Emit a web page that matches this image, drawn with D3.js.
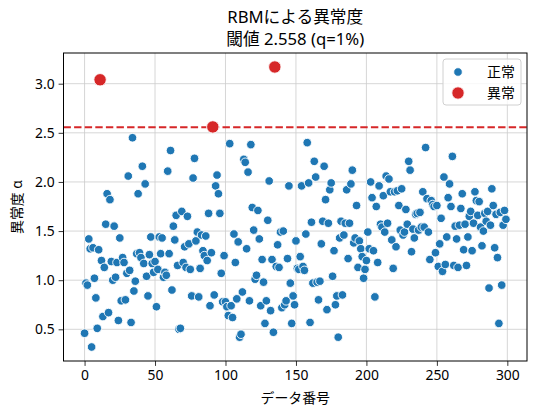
<!DOCTYPE html>
<html>
<head>
<meta charset="utf-8">
<script src="https://cdn.jsdelivr.net/npm/d3@7"></script>
<style>
  body { margin: 0; background: #fff; }
  text { font-family: "Noto Sans", "Noto Sans CJK JP", sans-serif; }
</style>
</head>
<body>
<svg id="chart" width="538" height="414"></svg>
<script>
// anomaly score per data index
const scores = [
  0.46,0.97,0.95,1.42,1.32,0.32,1.33,1.02,0.82,0.51, 1.31,3.04,1.20,0.63,1.13,1.57,1.88,0.67,1.82,1.19,
  1.00,1.55,1.03,1.18,0.59,1.43,0.79,1.23,1.18,0.80, 1.07,2.06,1.10,0.57,2.45,0.89,0.99,1.27,1.88,1.28,
  1.23,2.16,1.17,1.98,1.04,0.84,1.26,1.44,1.17,1.08, 1.19,0.73,1.11,1.44,1.27,1.43,1.03,1.08,1.05,2.11,
  1.27,2.32,0.90,1.55,1.41,1.66,1.15,0.50,0.51,1.70, 1.18,1.34,1.13,1.65,1.37,1.11,0.84,2.04,2.24,1.40,
  1.49,0.83,1.12,1.46,1.30,1.25,1.45,1.20,1.68,0.74, 1.28,2.56,0.85,1.96,2.07,1.88,1.68,1.07,0.78,1.25,
  0.78,0.73,0.64,2.39,0.74,0.62,1.47,1.18,0.81,1.39, 0.42,0.45,0.88,2.23,2.20,1.32,2.10,0.79,2.38,1.74,
  1.51,1.01,1.05,1.71,1.42,0.74,1.21,0.98,0.56,0.79, 1.61,2.01,0.69,1.21,0.47,3.17,1.14,1.36,1.13,1.49,
  0.72,1.50,0.75,0.79,1.22,1.96,0.97,0.56,0.84,0.75, 1.40,1.12,1.11,1.24,1.96,1.14,1.10,1.47,2.40,1.99,
  0.57,1.59,0.97,2.21,2.05,0.98,0.80,0.99,1.37,1.60, 2.16,1.82,0.70,1.58,1.92,1.99,1.04,1.30,0.75,0.84,
  0.42,1.43,1.60,0.85,1.46,1.58,1.92,1.22,1.58,1.98, 2.12,1.38,1.43,1.76,1.13,1.40,1.32,1.24,1.02,1.11,
  1.20,1.49,1.32,2.00,1.84,1.30,0.83,1.75,1.18,1.96, 1.57,1.54,1.86,1.49,2.06,1.58,2.03,1.90,1.41,1.12,
  1.90,1.34,1.91,1.76,1.51,1.93,1.46,1.49,1.72,1.57, 2.21,2.12,1.29,1.52,1.43,1.67,1.68,1.51,1.69,1.54,
  1.90,1.54,2.35,1.83,1.49,1.21,1.81,1.77,1.75,1.28, 1.76,1.14,1.37,1.63,1.09,2.05,1.16,1.44,1.84,1.98,
  1.75,2.26,1.15,1.55,1.42,1.13,1.56,1.73,1.88,1.31, 1.57,1.15,1.44,1.65,1.70,1.30,1.58,1.90,1.81,1.66,
  1.80,1.54,1.35,1.50,1.68,1.60,1.70,0.92,1.56,1.93, 1.76,1.33,1.67,1.23,0.56,1.69,0.95,1.56,1.71,1.62
];
const threshold = 2.558;
const xTicks = [0, 50, 100, 150, 200, 250, 300];
const yTicks = [0.5, 1.0, 1.5, 2.0, 2.5, 3.0];
const legendLabels = ["正常", "異常"];

const data = scores.map((v, i) => ({ i: i, v: v, anomaly: v > threshold }));

const svg = d3.select("#chart");
const m = { left: 63.5, right: 527, top: 53, bottom: 361 };

// matplotlib-style 5% margins
const n = scores.length - 1;
const [ymin, ymax] = d3.extent(scores);
const yp = (ymax - ymin) * 0.05;

const x = d3.scaleLinear().domain([-n * 0.05, n * 1.05]).range([m.left, m.right]);
const y = d3.scaleLinear().domain([ymin - yp, ymax + yp]).range([m.bottom, m.top]);

// grid
svg.append("g").selectAll("line").data(xTicks).enter().append("line")
    .attr("x1", d => x(d)).attr("x2", d => x(d))
    .attr("y1", m.top).attr("y2", m.bottom)
    .attr("stroke", "#cbcbcb").attr("stroke-width", 0.8);
svg.append("g").selectAll("line").data(yTicks).enter().append("line")
    .attr("x1", m.left).attr("x2", m.right)
    .attr("y1", d => y(d)).attr("y2", d => y(d))
    .attr("stroke", "#cbcbcb").attr("stroke-width", 0.8);

// threshold line
svg.append("line")
    .attr("x1", m.left).attr("x2", m.right)
    .attr("y1", y(threshold)).attr("y2", y(threshold))
    .attr("stroke", "#d62728").attr("stroke-width", 2)
    .attr("stroke-dasharray", "7.4,3.2");

// points
svg.append("g").selectAll("circle").data(data.filter(d => !d.anomaly)).enter().append("circle")
    .attr("cx", d => x(d.i)).attr("cy", d => y(d.v)).attr("r", 4.3)
    .attr("fill", "#1f77b4").attr("stroke", "#fff").attr("stroke-width", 0.9);
svg.append("g").selectAll("circle").data(data.filter(d => d.anomaly)).enter().append("circle")
    .attr("cx", d => x(d.i)).attr("cy", d => y(d.v)).attr("r", 6.2)
    .attr("fill", "#d62728").attr("stroke", "#fff").attr("stroke-width", 0.9);

// axes
const xAxis = svg.append("g").attr("transform", `translate(0,${m.bottom})`)
    .call(d3.axisBottom(x).tickValues(xTicks).tickSize(4.9).tickPadding(4));
const yAxis = svg.append("g").attr("transform", `translate(${m.left},0)`)
    .call(d3.axisLeft(y).tickValues(yTicks).tickFormat(d3.format(".1f")).tickSize(4.9).tickPadding(4));
[xAxis, yAxis].forEach(a => {
  a.select(".domain").remove();
  a.selectAll(".tick line").attr("stroke", "#000").attr("stroke-width", 0.8);
  a.selectAll(".tick text").attr("font-size", 13.9).attr("fill", "#000")
      .style("font-family", '"Noto Sans", "Noto Sans CJK JP", sans-serif');
});

// frame
svg.append("rect")
    .attr("x", m.left).attr("y", m.top)
    .attr("width", m.right - m.left).attr("height", m.bottom - m.top)
    .attr("fill", "none").attr("stroke", "#000").attr("stroke-width", 1);

// labels
svg.append("text").attr("x", (m.left + m.right) / 2).attr("y", 403)
    .attr("text-anchor", "middle").attr("font-size", 13.9).text("データ番号");
svg.append("text").attr("transform", `translate(22,${(m.top + m.bottom) / 2}) rotate(-90)`)
    .attr("text-anchor", "middle").attr("font-size", 13.9).text("異常度 α");
svg.append("text").attr("x", (m.left + m.right) / 2).attr("y", 23)
    .attr("text-anchor", "middle").attr("font-size", 16.7).text("RBMによる異常度");
svg.append("text").attr("x", (m.left + m.right) / 2).attr("y", 45)
    .attr("text-anchor", "middle").attr("font-size", 16.7).text("閾値 2.558 (q=1%)");

// legend
const lg = svg.append("g").attr("transform", "translate(443,59)");
lg.append("rect").attr("width", 78).attr("height", 46).attr("rx", 3)
    .attr("fill", "#fff").attr("fill-opacity", 0.8)
    .attr("stroke", "#d0d0d0").attr("stroke-width", 1);
const items = lg.selectAll("g.item").data(legendLabels).enter().append("g")
    .attr("transform", (d, i) => `translate(0,${13 + i * 21})`);
items.append("circle").attr("cx", 15).attr("r", (d, i) => i ? 6.2 : 4.3)
    .attr("fill", (d, i) => i ? "#d62728" : "#1f77b4")
    .attr("stroke", "#fff").attr("stroke-width", 0.9);
items.append("text").attr("x", 44).attr("dy", "0.35em")
    .attr("font-size", 13.9).text(d => d);
</script>
</body>
</html>
